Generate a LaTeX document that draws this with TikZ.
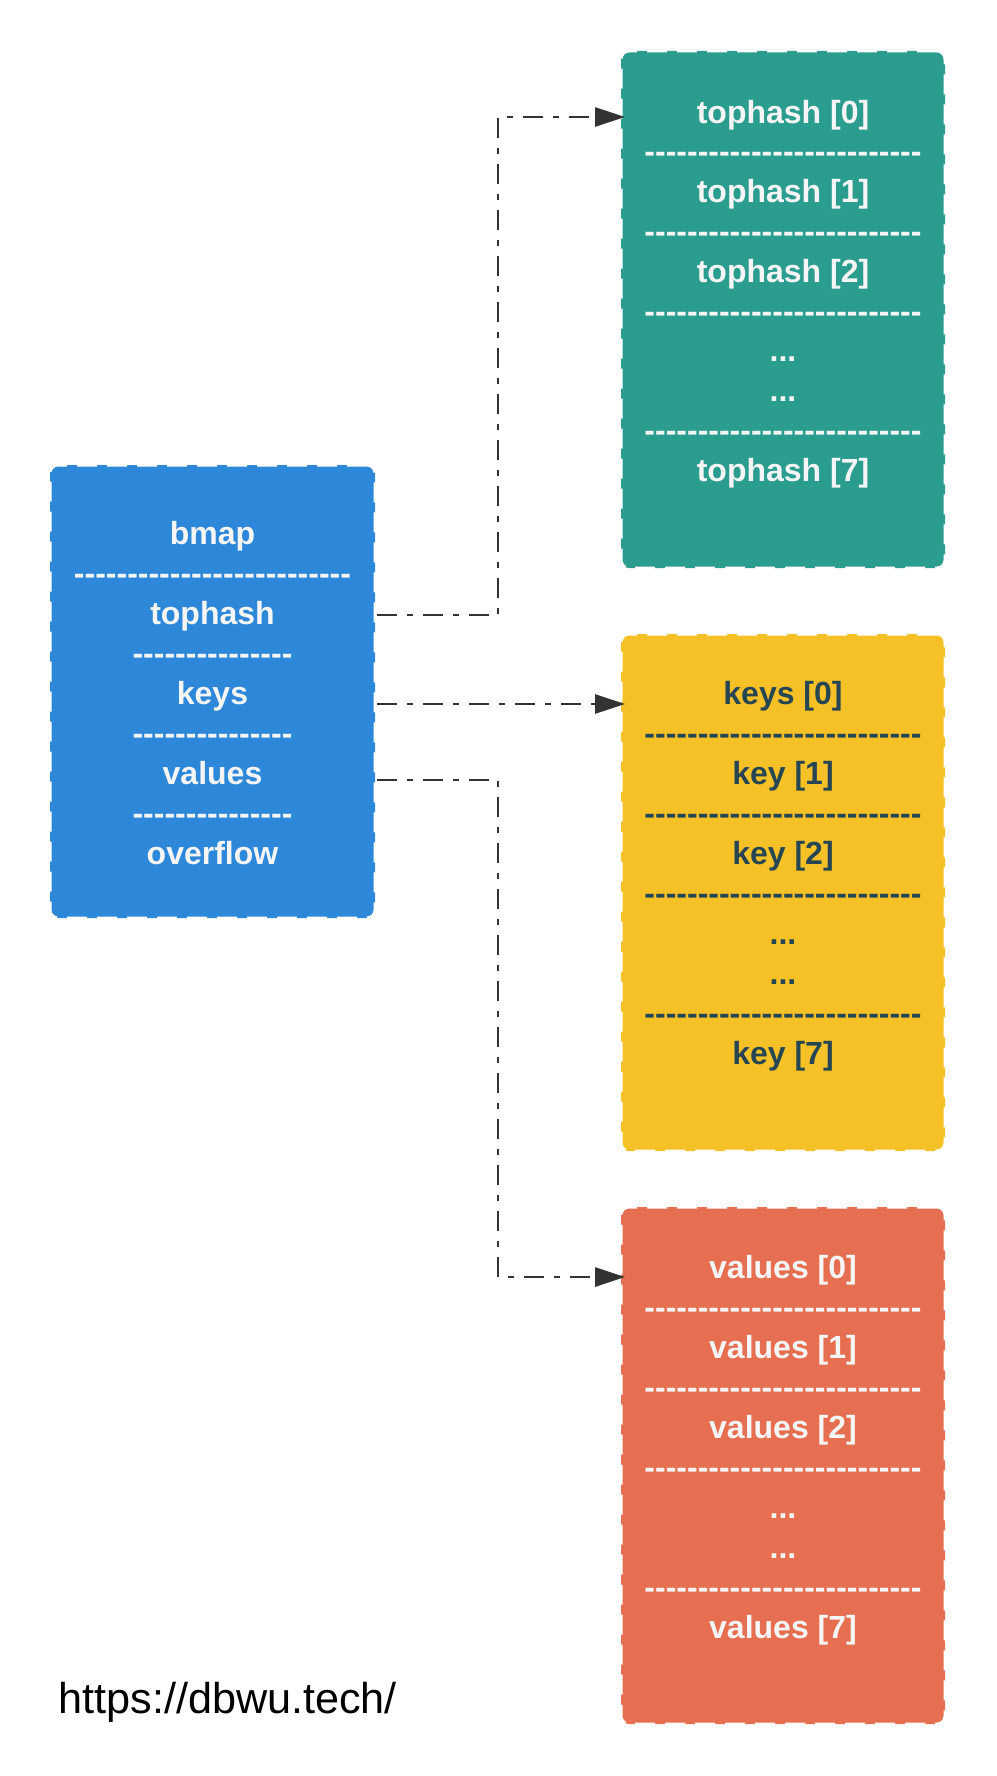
\documentclass[tikz,border=0pt]{standalone}
\usepackage{fontspec}
\setmainfont{Liberation Sans}
\newfontfamily\bxfont{Liberation Sans}
\usetikzlibrary{arrows.meta}
\definecolor{cblue}{HTML}{2D88D9}
\definecolor{cgreen}{HTML}{2A9D8F}
\definecolor{cyellow}{HTML}{F6C126}
\definecolor{cred}{HTML}{E76F51}
\definecolor{cdark}{HTML}{264653}
\definecolor{clight}{HTML}{F5F5F5}
\definecolor{cline}{HTML}{333333}
\newcommand\longsep{--------------------------}
\newcommand\shortsep{---------------}
\newcommand\tdots{...}
\tikzset{
  panel/.style={fill=#1, draw=white, line width=1.5pt, dash pattern=on 10pt off 5pt,
    rounded corners=4pt, inner sep=0pt, minimum width=162pt},
  cell/.style={font=\bxfont\fontsize{16pt}{19pt}\selectfont\bfseries, text=#1,
    inner sep=0pt, text height=11.5pt, text depth=3.4pt},
  link/.style={draw=cline, line width=1.4pt, dash pattern=on 10pt off 5pt on 3pt off 5pt,
    -{Triangle[length=15pt,width=9.5pt]}},
  url/.style={font=\bxfont\fontsize{21.6pt}{26pt}\selectfont, text=black, inner sep=0pt, anchor=west}
}
\begin{document}
\begin{tikzpicture}[x=0.5pt,y=-0.5pt]
\useasboundingbox (0,0) rectangle (996,1776);
% boxes
\node[panel=cblue, minimum width=162.5pt, minimum height=226.5pt] (bmap) at (212.5,691.5) {};
\node[panel=cgreen, minimum height=258.5pt] (thbox) at (783,309.5) {};
\node[panel=cyellow, minimum height=258.5pt] (kbox) at (783,892.5) {};
\node[panel=cred, minimum height=258.5pt] (vbox) at (783,1465.5) {};
% left box texts
\foreach \t [count=\i from 0] in {bmap,\longsep,tophash,\shortsep,keys,\shortsep,values,\shortsep,overflow}
  \node[cell=clight] (b\i) at (212.5,536+\i*40) {\t};
% tophash texts
\foreach \t [count=\i from 0] in {{tophash [0]},\longsep,{tophash [1]},\longsep,{tophash [2]},\longsep,\tdots,\tdots,\longsep,{tophash [7]}}
  \node[cell=clight] (g\i) at (783,115+\i*39.8) {\t};
% keys texts
\foreach \t [count=\i from 0] in {{keys [0]},\longsep,{key [1]},\longsep,{key [2]},\longsep,\tdots,\tdots,\longsep,{key [7]}}
  \node[cell=cdark] (k\i) at (783,696+\i*40) {\t};
% values texts
\foreach \t [count=\i from 0] in {{values [0]},\longsep,{values [1]},\longsep,{values [2]},\longsep,\tdots,\tdots,\longsep,{values [7]}}
  \node[cell=clight] (v\i) at (783,1270.5+\i*40) {\t};
% url
\node[url] (site) at (58,1702) {https://dbwu.tech/};
% connector ports
\coordinate (s1) at (377,615);
\coordinate (s2) at (377,704);
\coordinate (s3) at (377,780);
\coordinate (e1) at (625,117);
\coordinate (e2) at (625,704);
\coordinate (e3) at (625,1277);
\draw[link] (s1) -- (498,615) |- (e1);
\draw[link] (s2) -- (e2);
\draw[link] (s3) -- (498,780) |- (e3);
\end{tikzpicture}
\end{document}
